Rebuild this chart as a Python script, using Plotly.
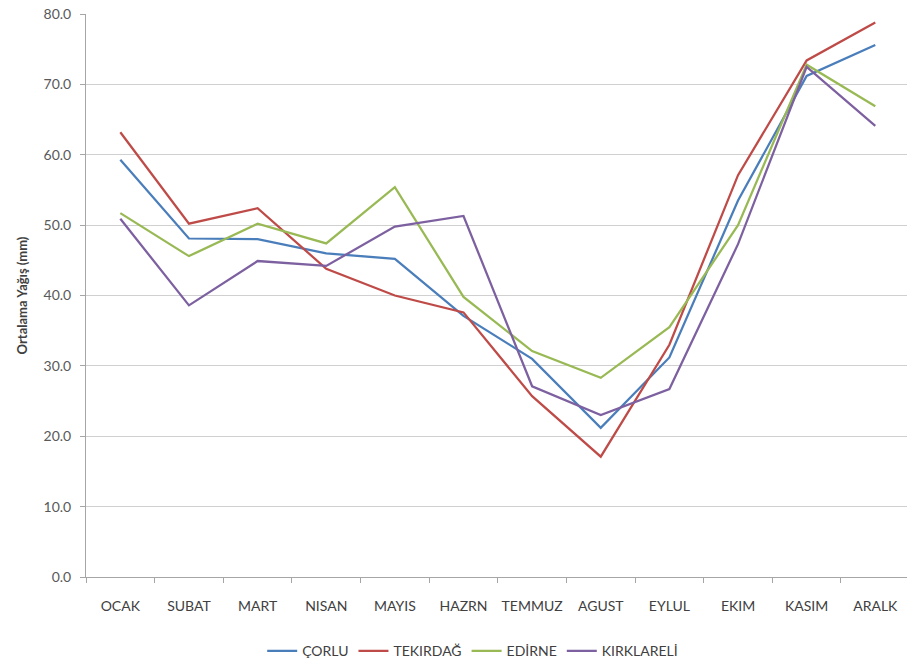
import plotly.graph_objects as go

# Monthly mean precipitation (mm) for four Thracian stations
months = ["OCAK", "SUBAT", "MART", "NISAN", "MAYIS", "HAZRN",
          "TEMMUZ", "AGUST", "EYLUL", "EKIM", "KASIM", "ARALK"]

corlu = [59.3, 48.1, 48.0, 46.0, 45.2, 37.1, 31.0, 21.2, 31.2, 53.5, 71.2, 75.6]
tekirdag = [63.2, 50.2, 52.4, 43.8, 40.0, 37.6, 25.7, 17.1, 33.0, 57.1, 73.4, 78.8]
edirne = [51.7, 45.6, 50.2, 47.4, 55.4, 39.8, 32.1, 28.3, 35.5, 50.0, 72.8, 66.9]
kirklareli = [50.9, 38.6, 44.9, 44.2, 49.8, 51.3, 27.1, 23.0, 26.7, 47.3, 72.5, 64.1]

series = [
    ("ÇORLU", corlu, "#4A7EBB"),
    ("TEKIRDAĞ", tekirdag, "#BE4B48"),
    ("EDİRNE", edirne, "#98B954"),
    ("KIRKLARELİ", kirklareli, "#7D60A0"),
]

FONT = "Lato, Open Sans, sans-serif"
TEXT = "#404040"

fig = go.Figure()
for name, vals, color in series:
    fig.add_trace(go.Scatter(
        x=months, y=vals, name=name, mode="lines",
        line=dict(color=color, width=2.25),
    ))

fig.update_layout(
    width=907, height=669,
    margin=dict(l=86, r=0, t=14, b=92),
    paper_bgcolor="white", plot_bgcolor="white",
    font=dict(family=FONT, size=14, color=TEXT),
    showlegend=True,
    legend=dict(
        orientation="h", x=0.471, xanchor="center", y=-0.132, yanchor="middle",
        font=dict(family=FONT, size=14, color=TEXT),
        itemwidth=30, traceorder="normal",
    ),
)

fig.update_xaxes(
    type="category", categoryorder="array", categoryarray=months,
    range=[-0.5, 11.462],
    showgrid=False, showline=True, linecolor="#A6A6A6", linewidth=1,
    ticks="outside", ticklen=5, tickcolor="#A6A6A6", tickson="boundaries",
    tickangle=0, ticklabelstandoff=16,
    tickfont=dict(family=FONT, size=14, color=TEXT),
    zeroline=False,
)

fig.update_yaxes(
    range=[0, 80], dtick=10, tickformat=".1f",
    showgrid=True, gridcolor="#D0D0D0", gridwidth=1.3,
    showline=True, linecolor="#A6A6A6", linewidth=1,
    ticks="outside", ticklen=5, tickcolor="#A6A6A6",
    ticklabelstandoff=6,
    tickfont=dict(family=FONT, size=14, color="#595959"),
    zeroline=False,
    title=dict(text="<b>Ortalama Yağış (mm)</b>", standoff=12,
               font=dict(family=FONT, size=13, color=TEXT)),
)

fig.write_html("out.html")
